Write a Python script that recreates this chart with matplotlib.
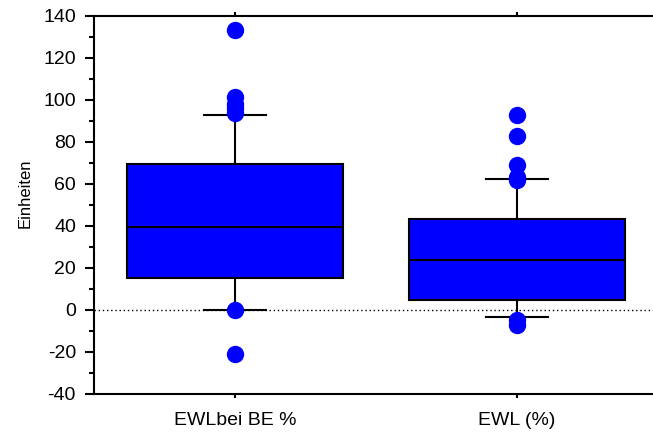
import matplotlib.pyplot as plt
from matplotlib.ticker import MultipleLocator

plt.rcParams['font.family'] = ['Liberation Sans', 'DejaVu Sans']
plt.rcParams['axes.unicode_minus'] = False

# box statistics per group
groups = ['EWLbei BE %', 'EWL (%)']
q1 = [15.3, 4.8]
medians = [39.7, 23.8]
q3 = [69.5, 43.2]
whisker_low = [0.0, -3.3]
whisker_high = [93.0, 62.2]
outliers = [
    [133.3, 101.5, 98.0, 96.0, 94.0, 0.0, -21.0],
    [92.9, 82.9, 69.0, 63.2, 62.0, -4.8, -7.2],
]

stats = []
for i, name in enumerate(groups):
    stats.append(dict(label=name, q1=q1[i], med=medians[i], q3=q3[i],
                      whislo=whisker_low[i], whishi=whisker_high[i],
                      fliers=outliers[i]))

fig = plt.figure(figsize=(6.53, 4.32), dpi=100)
ax = fig.add_axes([0.144, 0.088, 0.864, 0.875])

ax.axhline(0, color='black', lw=1, ls=(0, (1, 2)), zorder=1)

ax.bxp(stats, positions=[1, 2], widths=0.766, patch_artist=True,
       boxprops=dict(facecolor='#0000ff', edgecolor='black', lw=1.5),
       medianprops=dict(color='black', lw=1.5),
       whiskerprops=dict(color='black', lw=1.5),
       capprops=dict(color='black', lw=1.5),
       capwidths=0.22,
       flierprops=dict(marker='o', markerfacecolor='#0000ff',
                       markeredgecolor='#0000ff', markersize=11.5),
       zorder=2)

ax.set_xlim(0.5, 2.5)
ax.set_ylim(-40, 140)
ax.yaxis.set_major_locator(MultipleLocator(20))
ax.yaxis.set_minor_locator(MultipleLocator(10))

for side in ['left', 'top', 'bottom']:
    ax.spines[side].set_linewidth(1.5)
ax.spines['right'].set_visible(False)

ax.tick_params(axis='y', which='major', direction='out', length=6.5,
               width=1.5, labelsize=14, pad=6.5)
ax.tick_params(axis='y', which='minor', direction='out', length=3.5,
               width=1.5)
ax.tick_params(axis='x', direction='out', length=3, width=1.5,
               top=True, labelsize=14, pad=10)

ax.set_ylabel('Einheiten', fontsize=12)
ax.yaxis.set_label_coords(-0.109, 0.53)

fig.savefig('out.png', dpi=100)
